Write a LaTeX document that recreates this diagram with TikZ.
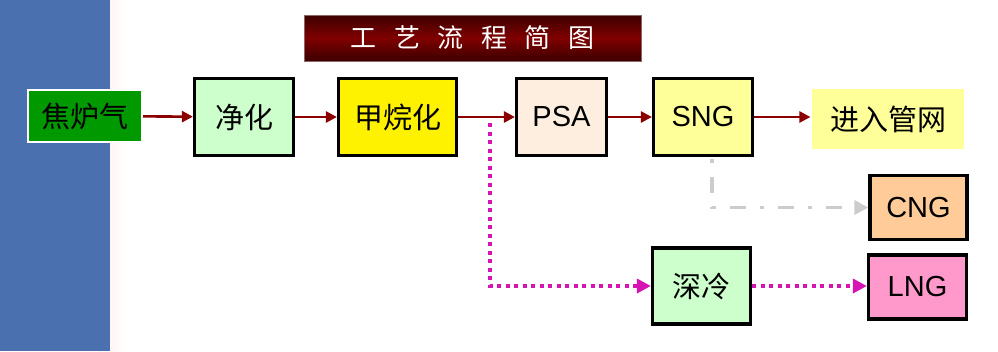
\documentclass[tikz,border=0pt]{standalone}
\usepackage{fontspec}
\setmainfont{Liberation Sans}
\newfontfamily\cjk{Noto Sans CJK SC}
\usepackage{xcolor}
\usepackage{tikz}
\usetikzlibrary{arrows.meta, calc, positioning}

\definecolor{barblue}{RGB}{74,112,176}
\definecolor{flowred}{RGB}{139,0,0}
\definecolor{titlered}{RGB}{128,0,0}
\definecolor{titledark}{RGB}{60,0,0}
\definecolor{feedgreen}{RGB}{0,153,0}
\definecolor{palegreen}{RGB}{204,255,204}
\definecolor{linen}{RGB}{253,238,224}
\definecolor{paleyellow}{RGB}{255,255,153}
\definecolor{peach}{RGB}{255,204,153}
\definecolor{pink}{RGB}{255,153,204}
\definecolor{dotmagenta}{RGB}{214,20,180}
\definecolor{lightgray}{RGB}{204,204,204}

\tikzset{
  unitbox/.style={draw=black, line width=3.2pt, inner sep=0pt,
    font=\cjk\fontsize{29}{31}\selectfont},
  latinbox/.style={unitbox, font=\fontsize{29}{31}\selectfont},
  mainflow/.style={draw=flowred, line width=2.6pt,
    -{Triangle[length=11pt,width=11pt]}},
  coldflow/.style={draw=dotmagenta, line width=4.5pt, dash pattern=on 4pt off 4.5pt,
    -{Triangle[length=14pt,width=14pt]}},
  cngflow/.style={draw=lightgray, line width=3.5pt,
    dash pattern=on 4pt off 14pt on 16pt off 14pt,
    -{Triangle[length=14pt,width=14pt]}},
}

\begin{document}
\begin{tikzpicture}[x=1pt, y=-1pt]
    \useasboundingbox (0,0) rectangle (998,351);
    % 左侧色条
    \fill[barblue] (0,0) rectangle (110,351);
    \shade[left color=blue!8!red!4, right color=white] (110,0) rectangle (126,351);

    % 标题
    \node[minimum width=337pt, minimum height=46pt, inner sep=0pt,
        top color=titledark, bottom color=titledark, middle color=titlered,
        draw=titledark!60, text=white, font=\cjk\fontsize{26}{28}\selectfont]
        (title) at (472.5,38) {工\hspace{0.67em}艺\hspace{0.67em}流\hspace{0.67em}程\hspace{0.67em}简\hspace{0.67em}图};

    % 主流程
    \node[unitbox, draw=white, line width=2pt, fill=feedgreen,
        minimum width=114pt, minimum height=52pt] (feed) at (85,116) {焦炉气};
    \node[unitbox, fill=palegreen, minimum width=99pt, minimum height=77pt] (purify) at (244,117) {净化};
    \node[unitbox, fill=yellow, minimum width=118pt, minimum height=77pt] (methan) at (397.5,117) {甲烷化};
    \node[latinbox, fill=linen, minimum width=90pt, minimum height=77pt] (psa) at (561.5,117) {PSA};
    \node[latinbox, fill=paleyellow, minimum width=99pt, minimum height=77pt] (sng) at (703,117) {SNG};
    \node[unitbox, draw=none, fill=paleyellow, minimum width=152pt, minimum height=60pt] (grid) at (888,119) {进入管网};

    % 分支
    \node[latinbox, fill=peach, minimum width=97pt, minimum height=64pt] (cng) at (918.5,207.5) {CNG};
    \node[unitbox, fill=palegreen, minimum width=98pt, minimum height=76pt] (cryo) at (701.5,286) {深冷};
    \node[latinbox, fill=pink, minimum width=98pt, minimum height=64pt] (lng) at (917.5,287) {LNG};

    \draw[mainflow] (feed) -- (purify);
    \draw[mainflow] (purify) -- (methan);
    \draw[mainflow] (methan) -- (psa);
    \draw[mainflow] (psa) -- (sng);
    \draw[mainflow] (sng) -- (sng -| grid.west);

    \coordinate (fork) at (490,123);
    \draw[coldflow] (fork) |- (cryo.west);
    \draw[coldflow] (cryo) -- (cryo -| lng.west);

    \coordinate (sngout) at ($(sng.south)+(9,2)$);
    \draw[cngflow] (sngout) |- (cng.west);
\end{tikzpicture}
\end{document}
